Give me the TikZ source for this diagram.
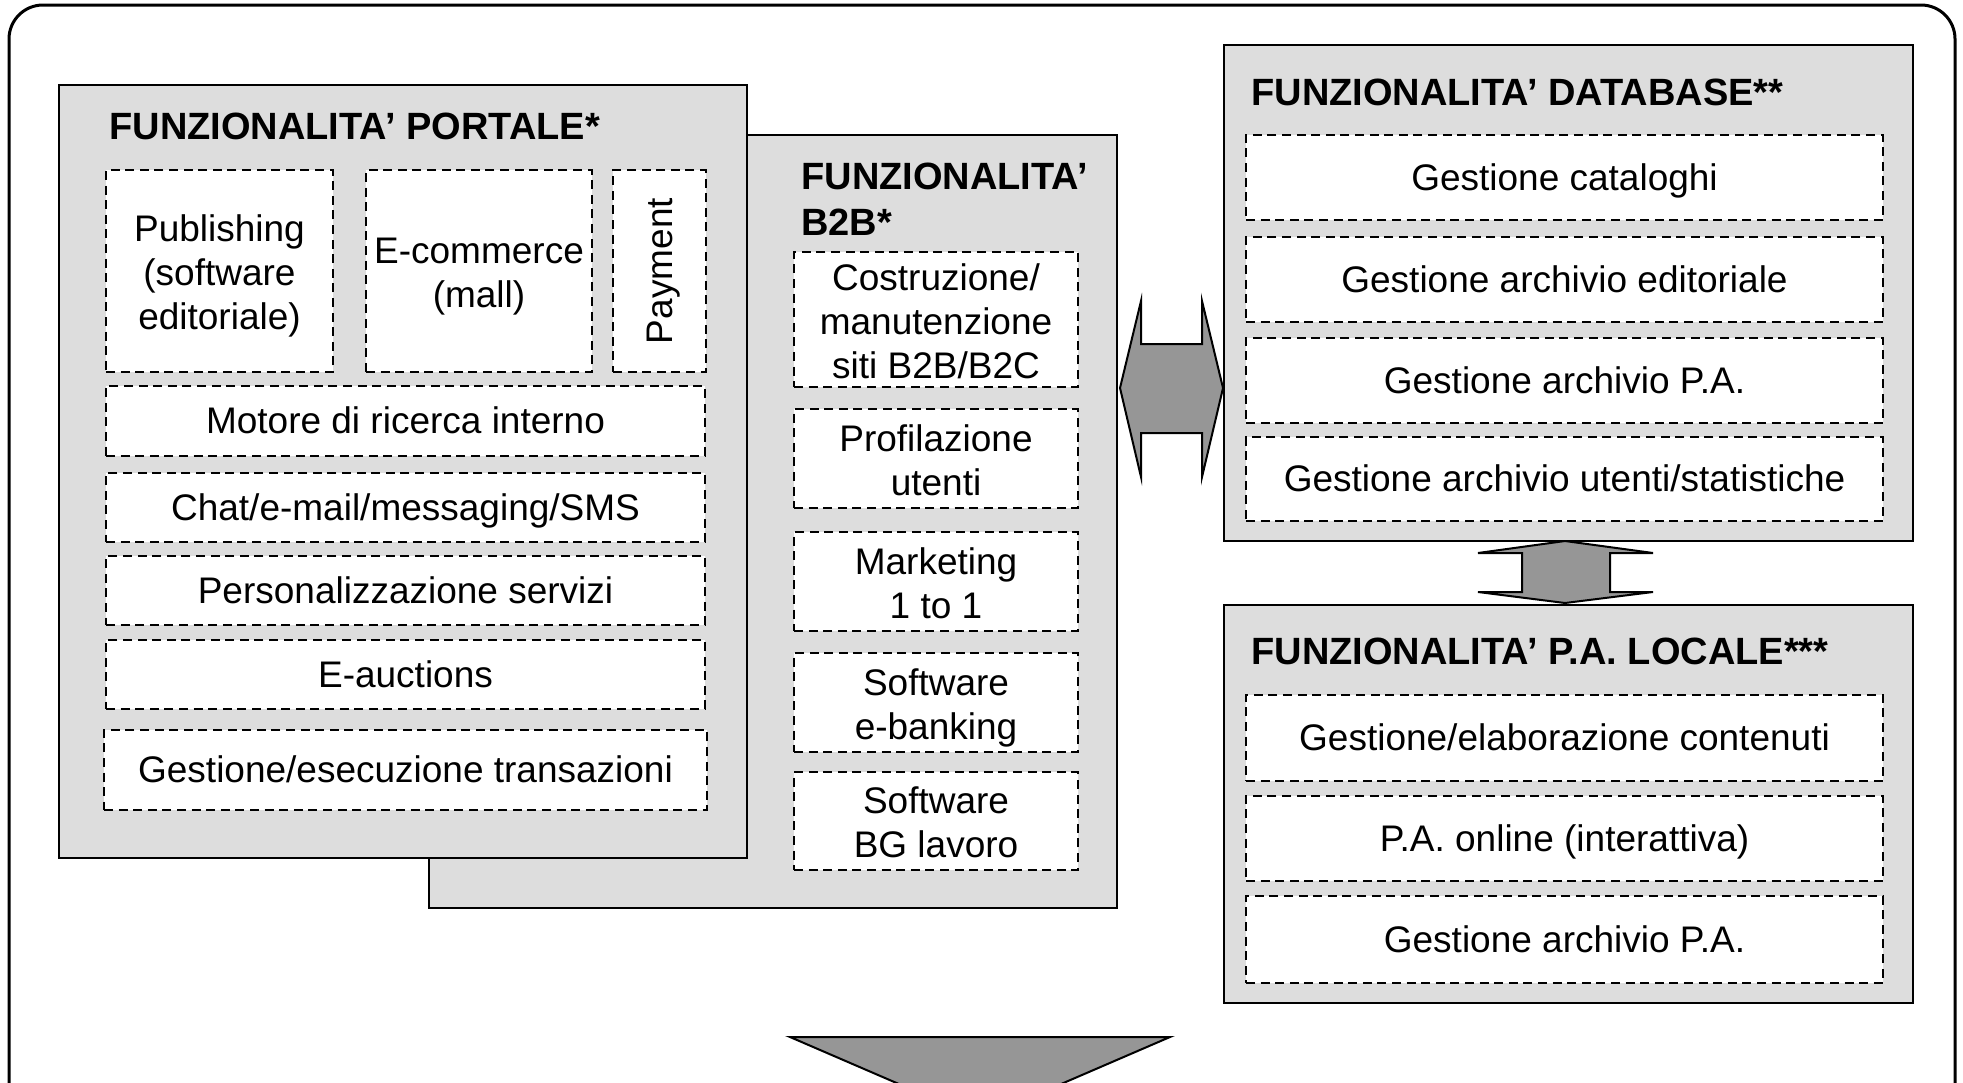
\documentclass[tikz,border=0pt]{standalone}
\usepackage{fontspec}
\setmainfont{Liberation Sans}
\definecolor{boxgray}{RGB}{221,221,221}
\definecolor{arrowgray}{RGB}{150,150,150}
\newcommand\linestrut{\rule[-4pt]{0pt}{20.5pt}}
\newcommand\firststrut{\rule{0pt}{18.5pt}}
\begin{document}
\begin{tikzpicture}[x=0.5pt,y=-0.5pt,
  panel/.style={draw=black,line width=1pt,fill=boxgray,inner sep=0pt},
  mitem/.style={draw=black,line width=1pt,dash pattern=on 4.5pt off 2.8pt,fill=white,inner sep=0pt,
    font=\fontsize{18.5}{22}\selectfont,align=center},
  item/.style={mitem,execute at begin node=\linestrut,execute at end node=\linestrut},
  ttl/.style={font=\fontsize{19}{22}\selectfont\bfseries,inner sep=0pt,anchor=base west},
  bigarrow/.style={draw=black,line width=1pt,fill=arrowgray,line join=miter}]
\useasboundingbox (0,0) rectangle (1963,1082);
\clip (0,0) rectangle (1963,1082);
% outer frame
\draw[line width=1.5pt,rounded corners=17pt] (9,1200) -- (9,5) -- (1955,5) -- (1955,1200);
% panels
\node[panel,minimum width=344pt,minimum height=386.5pt] (b2b) at (773,521.5) {};
\node[panel,minimum width=344pt,minimum height=386.5pt] (portale) at (403,471.5) {};
\node[panel,minimum width=344.5pt,minimum height=248pt] (db) at (1568.5,293) {};
\node[panel,minimum width=344.5pt,minimum height=199pt] (pa) at (1568.5,804) {};
% titles
\node[ttl] (tportale) at (109,139) {FUNZIONALITA’ PORTALE*};
\node[ttl] (tb2ba) at (801,189) {FUNZIONALITA’};
\node[ttl] (tb2bb) at (801,235) {B2B*};
\node[ttl] (tdb) at (1251,105) {FUNZIONALITA’ DATABASE**};
\node[ttl] (tpa) at (1251,664) {FUNZIONALITA’ P.A. LOCALE***};
% portale items
\node[mitem,minimum width=113.5pt,minimum height=101pt] (pub) at (219.5,271) {\firststrut Publishing\\(software\\editoriale)\linestrut};
\node[mitem,minimum width=113pt,minimum height=101pt] (ecom) at (479,271) {\firststrut E-commerce\\(mall)\linestrut};
\node[mitem,minimum width=46.5pt,minimum height=101pt] (pay) at (659.5,271) {};
\node[font=\fontsize{18.5}{22}\selectfont,rotate=90,inner sep=0pt] (paytxt) at (pay.center) {\linestrut Payment};
\node[item,minimum width=299.5pt,minimum height=35pt] (motore) at (405.5,421) {Motore di ricerca interno};
\node[item,minimum width=299.5pt,minimum height=34.5pt] (chat) at (405.5,507.5) {Chat/e-mail/messaging/SMS};
\node[item,minimum width=299.5pt,minimum height=34.5pt] (pers) at (405.5,590.5) {Personalizzazione servizi};
\node[item,minimum width=299.5pt,minimum height=34.5pt] (eauc) at (405.5,674.5) {E-auctions};
\node[item,minimum width=301.5pt,minimum height=40pt] (trans) at (405.5,770) {Gestione/esecuzione transazioni};
% b2b items
\node[mitem,minimum width=142pt,minimum height=67.5pt] (cost) at (936,319.5) {\firststrut Costruzione/\\manutenzione\\siti B2B/B2C\linestrut};
\node[mitem,minimum width=142pt,minimum height=49.5pt] (prof) at (936,458.5) {\firststrut Profilazione\\utenti\linestrut};
\node[mitem,minimum width=142pt,minimum height=49.5pt] (mark) at (936,581.5) {\firststrut Marketing\\1 to 1\linestrut};
\node[mitem,minimum width=142pt,minimum height=49.5pt] (sweb) at (936,702.5) {\firststrut Software\\e-banking\linestrut};
\node[mitem,minimum width=142pt,minimum height=49pt] (swbg) at (936,821) {\firststrut Software\\BG lavoro\linestrut};
% database items
\node[item,minimum width=318.5pt,minimum height=42.5pt] (cat) at (1564.5,177.5) {Gestione cataloghi};
\node[item,minimum width=318.5pt,minimum height=42.5pt] (edit) at (1564.5,279.5) {Gestione archivio editoriale};
\node[item,minimum width=318.5pt,minimum height=42.5pt] (dbpa) at (1564.5,380.5) {Gestione archivio P.A.};
\node[item,minimum width=318.5pt,minimum height=42pt] (ut) at (1564.5,479) {Gestione archivio utenti/statistiche};
% pa items
\node[item,minimum width=318.5pt,minimum height=43pt] (elab) at (1564.5,738) {Gestione/elaborazione contenuti};
\node[item,minimum width=318.5pt,minimum height=42.5pt] (online) at (1564.5,838.5) {P.A. online (interattiva)};
\node[item,minimum width=318.5pt,minimum height=43.5pt] (papa) at (1564.5,939.5) {Gestione archivio P.A.};
% horizontal double arrow
\draw[bigarrow] (1120,388) -- (1141,301) -- (1141,344) -- (1202,344) -- (1202,301) -- (1223,388)
  -- (1202,477) -- (1202,433) -- (1141,433) -- (1141,477) -- cycle;
% vertical double arrow
\draw[bigarrow] (1565,541) -- (1653,553) -- (1610,553) -- (1610,592) -- (1653,592) -- (1565,603)
  -- (1478,592) -- (1522,592) -- (1522,553) -- (1478,553) -- cycle;
% bottom arrow
\draw[bigarrow] (790,1037) -- (1170,1037) -- (980,1119) -- cycle;
\end{tikzpicture}
\end{document}
